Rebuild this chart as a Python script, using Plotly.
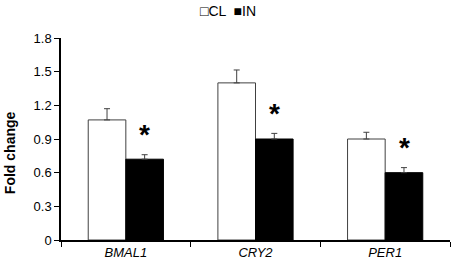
import plotly.graph_objects as go

genes = ["BMAL1", "CRY2", "PER1"]
gene_labels = ["<i>BMAL1</i>", "<i>CRY2</i>", "<i>PER1</i>"]
cl_values = [1.07, 1.40, 0.90]
cl_err = [0.10, 0.115, 0.06]
in_values = [0.72, 0.90, 0.60]
in_err = [0.04, 0.05, 0.045]
y_ticks = [0, 0.3, 0.6, 0.9, 1.2, 1.5, 1.8]
y_tick_text = ["0", "0.3", "0.6", "0.9", "1.2", "1.5", "1.8"]
series_names = ["CL", "IN"]

FONT = "Arial, Liberation Sans, sans-serif"

fig = go.Figure()
fig.add_trace(go.Bar(
    x=genes, y=cl_values, name=series_names[0],
    marker=dict(color="white", line=dict(color="#404040", width=1)),
    error_y=dict(type="data", symmetric=False, array=cl_err, arrayminus=[0]*3,
                 color="#404040", thickness=1, width=3),
))
fig.add_trace(go.Bar(
    x=genes, y=in_values, name=series_names[1],
    marker=dict(color="black", line=dict(color="black", width=1)),
    error_y=dict(type="data", symmetric=False, array=in_err, arrayminus=[0]*3,
                 color="#404040", thickness=1, width=3),
))

for g, v, e in zip(genes, in_values, in_err):
    fig.add_annotation(x=g, y=v + e + 0.18, text="<b>*</b>", showarrow=False,
                       xshift=19, yanchor="middle",
                       font=dict(size=28, color="black", family=FONT))

# legend drawn as text
fig.add_annotation(xref="paper", yref="paper", x=0.43, y=1.0, yshift=27,
                   text="□CL  ■IN", showarrow=False, xanchor="center", yanchor="middle",
                   font=dict(size=14, color="black", family=FONT))

# y axis title
fig.add_annotation(xref="paper", yref="paper", x=0, xshift=-51, y=0.43,
                   text="<b>Fold change</b>", textangle=-90, showarrow=False,
                   xanchor="center", yanchor="middle",
                   font=dict(size=14, color="black", family=FONT))

fig.update_layout(
    width=454, height=265,
    margin=dict(l=61, r=4, t=38, b=25, autoexpand=False),
    plot_bgcolor="white", paper_bgcolor="white",
    barmode="group", bargap=0.42, bargroupgap=0,
    font=dict(family=FONT, size=13, color="black"),
    showlegend=False,
    xaxis=dict(
        tickmode="array", tickvals=genes, ticktext=gene_labels,
        showline=True, linecolor="black", linewidth=1.5,
        ticks="outside", tickson="boundaries", ticklen=5, tickcolor="black",
        tickfont=dict(size=13, color="black"), automargin=False,
    ),
    yaxis=dict(
        range=[0, 1.8], tickvals=y_ticks, ticktext=y_tick_text,
        showline=True, linecolor="black", linewidth=1.5,
        ticks="outside", ticklen=5, tickcolor="black",
        showgrid=False, zeroline=False,
        tickfont=dict(size=13, color="black"), automargin=False,
    ),
)

fig.write_html("out.html",
               config={"displayModeBar": False},
               post_script="document.body.style.margin='0';document.body.style.overflow='hidden';")
